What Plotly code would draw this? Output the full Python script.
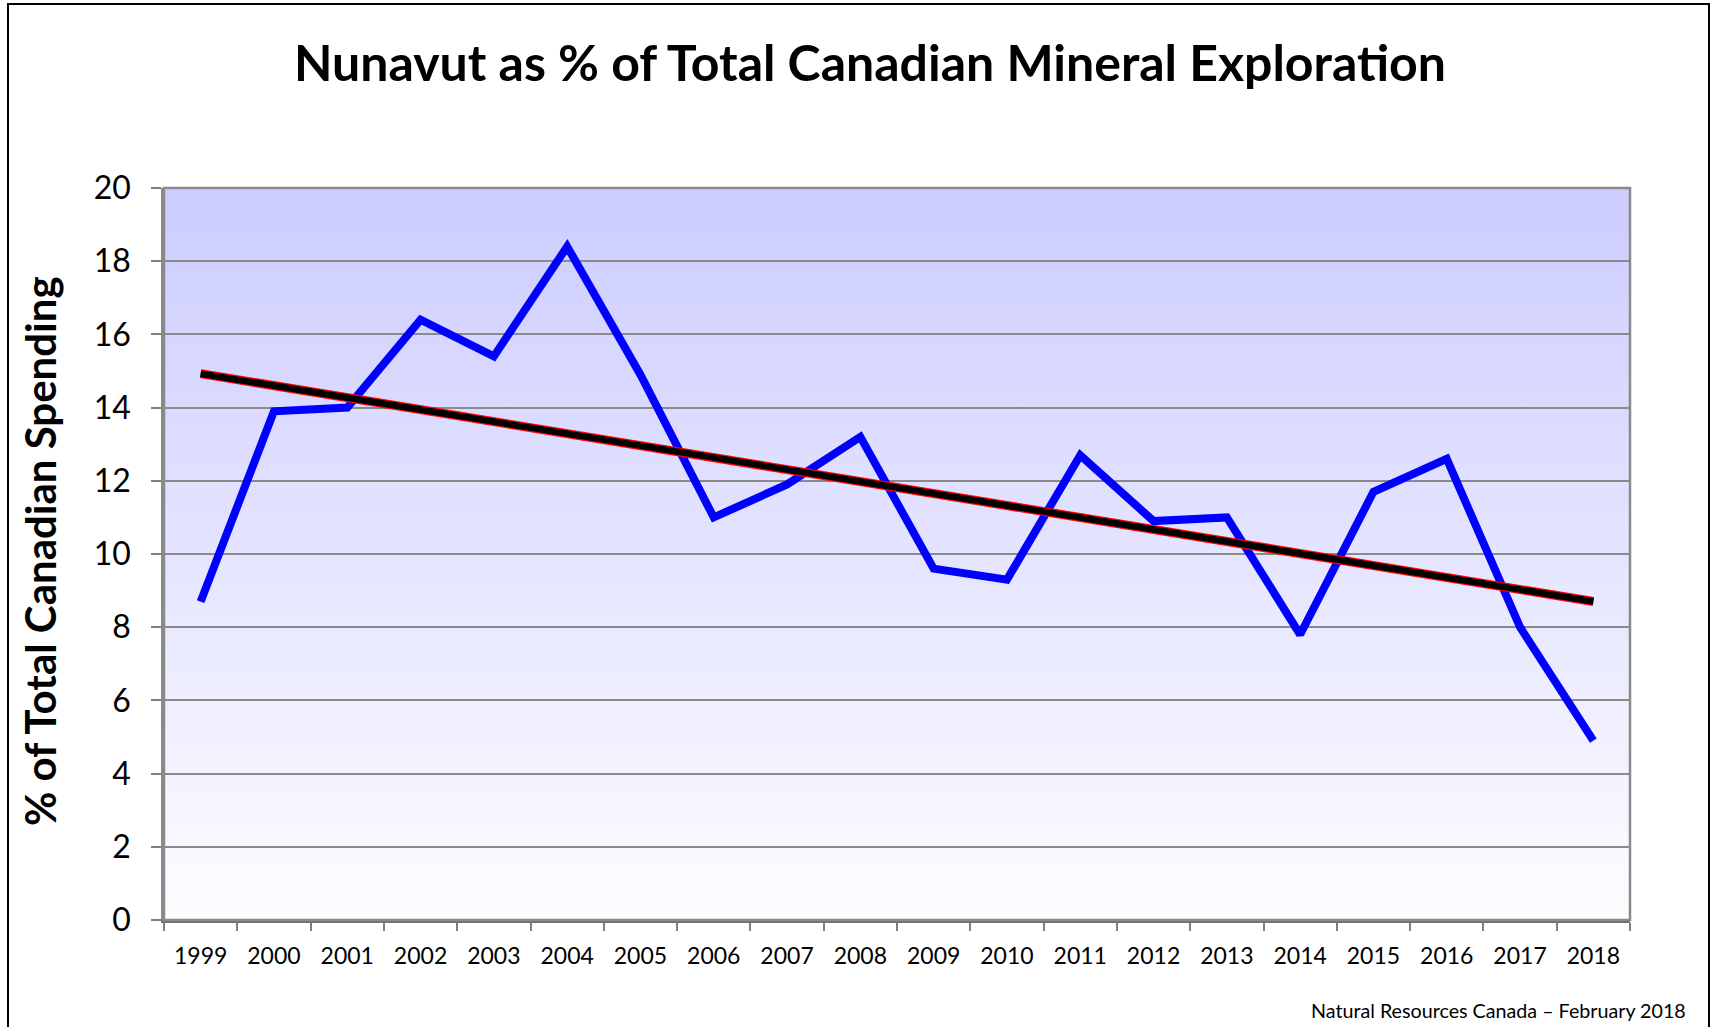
import base64
import numpy as np
import plotly.graph_objects as go

years = [str(y) for y in range(1999, 2019)]
nunavut_pct = [8.7, 13.9, 14.0, 16.4, 15.4, 18.4, 14.9, 11.0, 11.9, 13.2,
               9.6, 9.3, 12.7, 10.9, 11.0, 7.8, 11.7, 12.6, 8.0, 4.9]
y_ticks = [0, 2, 4, 6, 8, 10, 12, 14, 16, 18, 20]

title_text = "<b>Nunavut as % of Total Canadian Mineral Exploration</b>"
y_title = "<b>% of Total Canadian Spending</b>"
footer = "Natural Resources Canada – February 2018"

# Linear trendline (least squares, as in the spreadsheet trendline)
idx = np.arange(len(nunavut_pct))
slope, intercept = np.polyfit(idx, nunavut_pct, 1)
trend = (slope * idx + intercept).tolist()

FONT = "Lato, 'Open Sans', sans-serif"

fig = go.Figure()
fig.add_trace(go.Scatter(x=years, y=nunavut_pct, mode="lines",
                         line=dict(color="#0000FF", width=8),
                         hoverinfo="x+y", showlegend=False))
fig.add_trace(go.Scatter(x=years, y=trend, mode="lines",
                         line=dict(color="#FF0000", width=9),
                         hoverinfo="skip", showlegend=False))
fig.add_trace(go.Scatter(x=years, y=trend, mode="lines",
                         line=dict(color="#000000", width=6.5),
                         hoverinfo="skip", showlegend=False))

svg = ('<svg xmlns="http://www.w3.org/2000/svg" width="100" height="100" preserveAspectRatio="none">'
       '<defs><linearGradient id="g" x1="0" y1="0" x2="0" y2="1">'
       '<stop offset="0" stop-color="#CCCCFF"/><stop offset="1" stop-color="#FDFDFF"/>'
       '</linearGradient></defs><rect width="100" height="100" fill="url(#g)"/></svg>')
src = "data:image/svg+xml;base64," + base64.b64encode(svg.encode()).decode()

W, H = 1712, 1027
L, R, T, B = 164, 82, 188, 107
pw, ph = W - L - R, H - T - B

def px(x):
    return (x - L) / pw

def py(y):
    return (H - B - y) / ph

fig.update_layout(
    width=W, height=H,
    margin=dict(l=L, r=R, t=T, b=B),
    paper_bgcolor="white",
    plot_bgcolor="rgba(0,0,0,0)",
    font=dict(family=FONT, color="black"),
    images=[dict(source=src, xref="paper", yref="paper", x=0, y=1,
                 sizex=1, sizey=1, sizing="stretch", layer="below",
                 xanchor="left", yanchor="top")],
    title=dict(text=title_text, x=870 / W, xref="container", xanchor="center",
               y=1 - 63 / H, yref="container", yanchor="middle",
               font=dict(size=50, family=FONT, color="black")),
    xaxis=dict(type="category", range=[-0.5, 19.5], tickson="boundaries",
               ticks="outside", ticklen=8, tickwidth=2, tickcolor="#808080",
               showgrid=False, showline=True, linecolor="#707070", linewidth=2.5,
               mirror=False, tickfont=dict(size=23, family=FONT),
               ticklabelstandoff=14),
    yaxis=dict(range=[0, 20], tickvals=y_ticks, ticks="outside", ticklen=10,
               tickwidth=2, tickcolor="#808080", showgrid=True,
               gridcolor="#8A8A8A", gridwidth=2, showline=True,
               linecolor="#8A8A8A", linewidth=2.5, zeroline=False,
               tickfont=dict(size=32, family=FONT), ticklabelstandoff=14),
    shapes=[
        dict(type="rect", xref="paper", yref="paper", x0=0, x1=1, y0=0, y1=1,
             line=dict(color="#8A8A8A", width=2.5), fillcolor="rgba(0,0,0,0)", layer="above"),
        dict(type="rect", xref="paper", yref="paper",
             x0=px(8), x1=px(1709), y0=py(1040), y1=py(4),
             line=dict(color="black", width=2), fillcolor="rgba(0,0,0,0)"),
    ],
    annotations=[
        dict(text=y_title, xref="paper", yref="paper", x=px(40), y=py(551),
             xanchor="center", yanchor="middle", textangle=-90, showarrow=False,
             font=dict(size=42, family=FONT, color="black")),
        dict(text=footer, xref="paper", yref="paper", x=px(1688), y=py(1010),
             xanchor="right", yanchor="middle", showarrow=False,
             font=dict(size=19.7, family=FONT, color="black")),
    ],
)

fig.write_html("out.html", config={"displayModeBar": False},
               post_script="document.body.style.margin='0px';document.body.style.overflow='hidden';")
